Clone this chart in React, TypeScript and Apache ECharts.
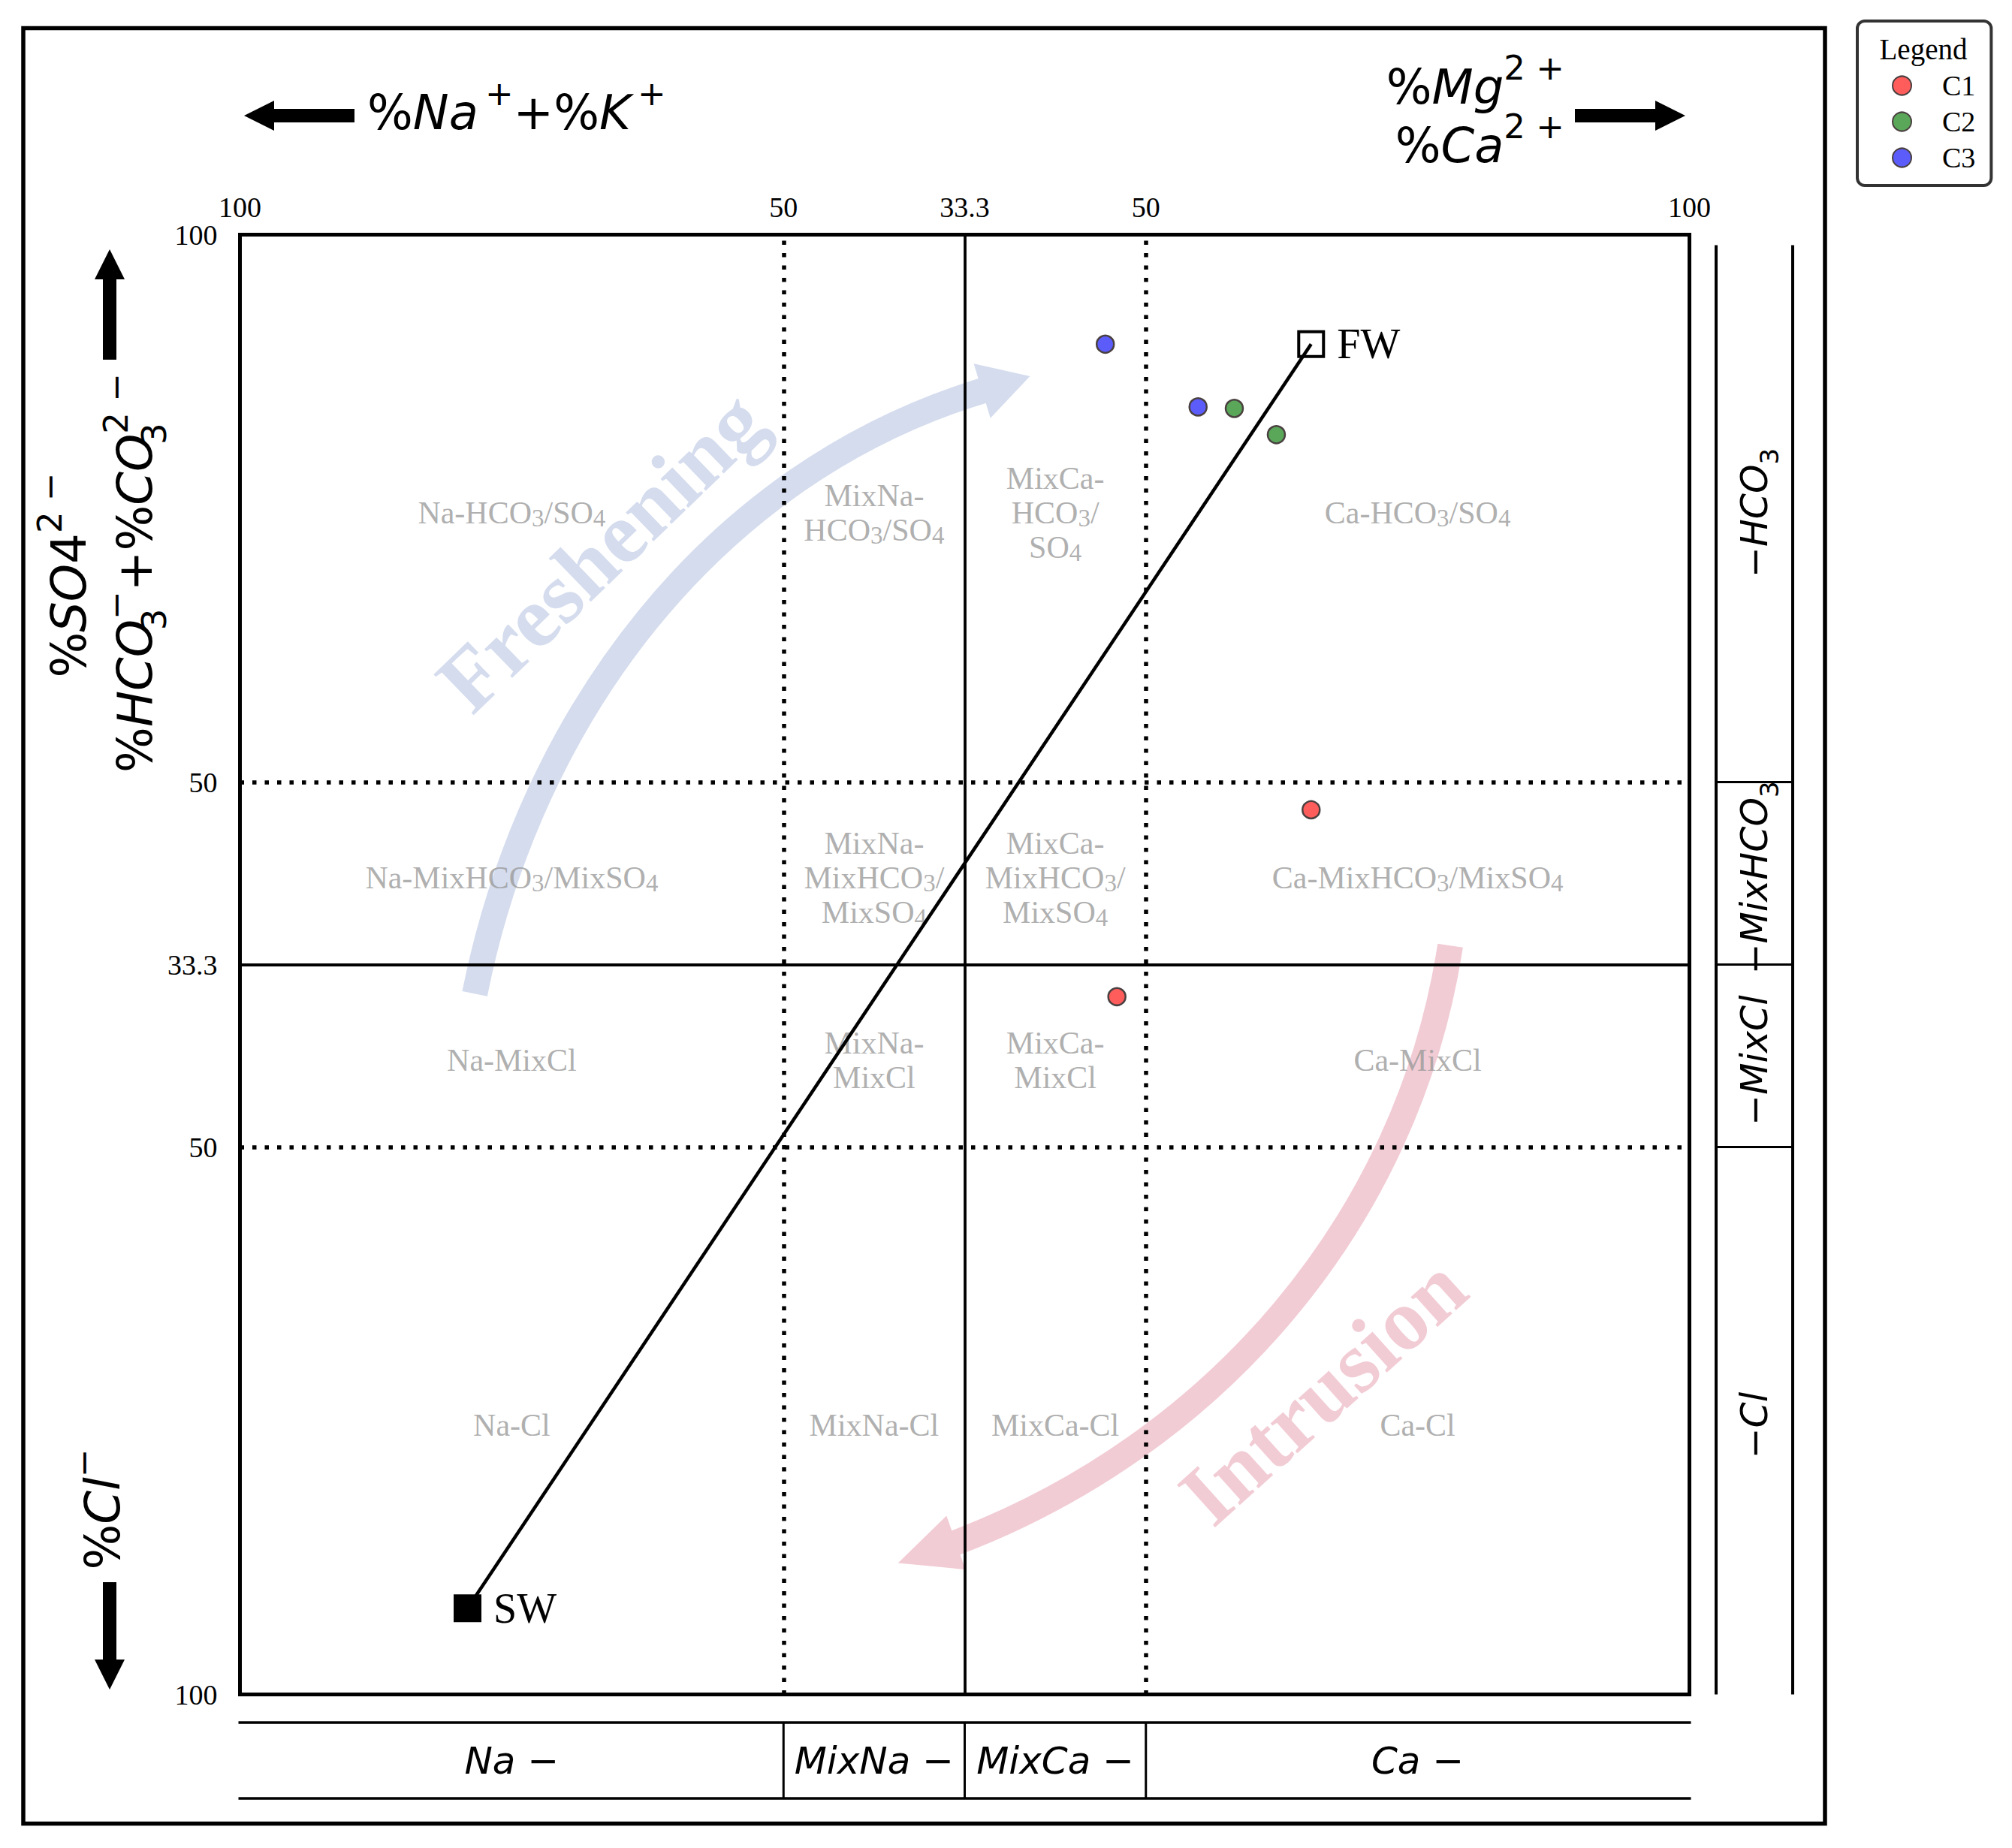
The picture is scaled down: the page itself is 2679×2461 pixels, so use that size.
import React, { useEffect, useRef } from 'react';
import * as echarts from 'echarts';

const W = 2679;
const H = 2461;
const SERIF = "'Liberation Serif', 'Times New Roman', Times, serif";
const SANS = "'DejaVu Sans', 'Noto Sans', sans-serif";

// ---------- axis tick labels (HFE-D) ----------
const xTickValues = [0, 37.5, 50, 62.5, 100];
const xTickLabels = ['100', '50', '33.3', '50', '100'];
const yTickValues = [0, 37.5, 50, 62.5, 100];
const yTickLabels = ['100', '50', '33.3', '50', '100'];

// ---------- facies boundaries ----------
const xDottedBounds = [37.5, 62.5];
const xSolidBounds = [50];
const yDottedBounds = [37.5, 62.5];
const ySolidBounds = [50];

const cationBounds = [0, 37.5, 50, 62.5, 100];
const cationLabels = ['{i|Na }{r|−}', '{i|MixNa }{r|−}', '{i|MixCa }{r|−}', '{i|Ca }{r|−}'];
const anionBounds = [100, 62.5, 50, 37.5, 0];
const anionLabels = ['{r|−}{i|HCO}{sub|3}', '{r|−}{i|MixHCO}{sub|3}', '{r|−}{i|MixCl}', '{r|−}{i|Cl}'];

// facies names, rows = anion classes (top to bottom), cols = cation classes (left to right)
const faciesRows = [
  ['Na-HCO{s|3}/SO{s|4}', 'MixNa-\nHCO{s|3}/SO{s|4}', 'MixCa-\nHCO{s|3}/\nSO{s|4}', 'Ca-HCO{s|3}/SO{s|4}'],
  ['Na-MixHCO{s|3}/MixSO{s|4}', 'MixNa-\nMixHCO{s|3}/\nMixSO{s|4}', 'MixCa-\nMixHCO{s|3}/\nMixSO{s|4}', 'Ca-MixHCO{s|3}/MixSO{s|4}'],
  ['Na-MixCl', 'MixNa-\nMixCl', 'MixCa-\nMixCl', 'Ca-MixCl'],
  ['Na-Cl', 'MixNa-Cl', 'MixCa-Cl', 'Ca-Cl'],
];

// ---------- samples ----------
const c1X = [73.9, 60.5];
const c1Y = [60.6, 47.8];
const c2X = [68.6, 71.5];
const c2Y = [88.1, 86.3];
const c3X = [59.7, 66.1];
const c3Y = [92.5, 88.2];

// ---------- end members ----------
const endNames = ['SW', 'FW'];
const endX = [15.7, 73.9];
const endY = [5.9, 92.5];

// ---------- trend arrows: [start, control1, control2, head base, tip] in diagram units ----------
const freshX = [16.2, 20.0, 32.5, 51.2, 54.5];
const freshY = [48.0, 66.9, 83.7, 89.3, 90.3];
const intrX = [83.5, 80.6, 67.3, 49.4, 45.4];
const intrY = [51.3, 32.5, 17.1, 10.4, 9.0];
const trendNames = ['Freshening', 'Intrusion'];
const trendTextX = [24.9, 74.7];
const trendTextY = [78.3, 20.8];
const trendTextAngle = [44, 42];
const trendColors = ['#d4dcee', '#f2ccd5'];

const THIN = '\u2009';

const mathRich = (fs: number) => {
  const lh = Math.round(fs * 1.5);
  const ss = Math.round(fs * 0.7);
  return {
    r: { fontFamily: SANS, fontSize: fs, lineHeight: lh, fill: '#000' },
    i: { fontFamily: SANS, fontStyle: 'italic', fontSize: fs, lineHeight: lh, fill: '#000' },
    sup: { fontFamily: SANS, fontSize: ss, lineHeight: ss, verticalAlign: 'top', fill: '#000' },
    sub: { fontFamily: SANS, fontSize: ss, lineHeight: ss, verticalAlign: 'bottom', fill: '#000' },
    subz: { fontFamily: SANS, fontSize: ss, lineHeight: ss, verticalAlign: 'bottom', width: 0, fill: '#000' },
  };
};

const blockArrow = (tx: number, ty: number, hx: number, hy: number) => {
  const shaft = 18, headW = 40, headL = 40;
  const dx = hx - tx, dy = hy - ty;
  const L = Math.hypot(dx, dy);
  const ux = dx / L, uy = dy / L;
  const nx = -uy, ny = ux;
  const bx = hx - ux * headL, by = hy - uy * headL;
  return {
    type: 'polygon',
    shape: {
      points: [
        [tx + nx * shaft / 2, ty + ny * shaft / 2],
        [bx + nx * shaft / 2, by + ny * shaft / 2],
        [bx + nx * headW / 2, by + ny * headW / 2],
        [hx, hy],
        [bx - nx * headW / 2, by - ny * headW / 2],
        [bx - nx * shaft / 2, by - ny * shaft / 2],
        [tx - nx * shaft / 2, ty - ny * shaft / 2],
      ],
    },
    style: { fill: '#000' },
  };
};

const scatterSeries = (name: string, xs: number[], ys: number[], color: string) => ({
  type: 'scatter',
  name,
  z: 6,
  symbol: 'circle',
  symbolSize: 23,
  itemStyle: { color, borderColor: '#4a4040', borderWidth: 2.5, opacity: 1 },
  emphasis: { disabled: true },
  data: xs.map((x, i) => [x, ys[i]]),
});

function buildOption() {
  const dotted = { type: [5.5, 11], width: 5.5, color: '#000' };
  const solid = { type: 'solid', width: 3.8, color: '#000' };
  const markData: any[] = [];
  xDottedBounds.forEach((v) => markData.push({ xAxis: v, lineStyle: dotted }));
  xSolidBounds.forEach((v) => markData.push({ xAxis: v, lineStyle: solid }));
  yDottedBounds.forEach((v) => markData.push({ yAxis: v, lineStyle: dotted }));
  ySolidBounds.forEach((v) => markData.push({ yAxis: v, lineStyle: solid }));

  const faciesData: any[] = [];
  faciesRows.forEach((row, r) => {
    const yc = (anionBounds[r] + anionBounds[r + 1]) / 2;
    row.forEach((lab, c) => {
      const xc = (cationBounds[c] + cationBounds[c + 1]) / 2;
      faciesData.push({ name: lab, value: [xc, yc] });
    });
  });

  const trends = trendNames.map((n, i) => ({
    name: n,
    xs: i === 0 ? freshX : intrX,
    ys: i === 0 ? freshY : intrY,
    tx: trendTextX[i],
    ty: trendTextY[i],
    angle: trendTextAngle[i],
    color: trendColors[i],
  }));

  return {
    animation: false,
    backgroundColor: '#ffffff',
    textStyle: { fontFamily: SERIF },
    grid: {
      left: 319.5, top: 312.5, width: 1930, height: 1944,
      show: true, borderColor: '#000', borderWidth: 5, backgroundColor: 'transparent',
    },
    xAxis: {
      type: 'value', position: 'top', min: 0, max: 100, interval: 12.5,
      axisLine: { show: false }, axisTick: { show: false }, splitLine: { show: false },
      axisLabel: {
        margin: 18, fontFamily: SERIF, fontSize: 38, color: '#000',
        formatter: (v: number) => {
          const k = xTickValues.indexOf(v);
          return k >= 0 ? xTickLabels[k] : '';
        },
      },
    },
    yAxis: {
      type: 'value', min: 0, max: 100, interval: 12.5,
      axisLine: { show: false }, axisTick: { show: false }, splitLine: { show: false },
      axisLabel: {
        margin: 30, fontFamily: SERIF, fontSize: 38, color: '#000',
        formatter: (v: number) => {
          const k = yTickValues.indexOf(v);
          return k >= 0 ? yTickLabels[k] : '';
        },
      },
    },
    legend: {
      data: ['C1', 'C2', 'C3'],
      orient: 'vertical',
      left: 2473, top: 28,
      padding: [67, 21, 18, 46],
      itemWidth: 25, itemHeight: 25, itemGap: 10,
      icon: 'circle',
      borderColor: '#333', borderWidth: 4, borderRadius: 10, backgroundColor: '#fff',
      selectedMode: false,
      textStyle: { fontFamily: SERIF, fontSize: 38, lineHeight: 38, color: '#000', padding: [0, 0, 0, 36] },
    },
    series: [
      {
        type: 'scatter', name: 'bounds', z: 1, data: [], silent: true,
        markLine: {
          silent: true, symbol: ['none', 'none'], label: { show: false },
          emphasis: { disabled: true }, animation: false, data: markData,
        },
      },
      {
        type: 'custom', name: 'trends', z: 2, silent: true,
        coordinateSystem: 'cartesian2d',
        data: trends.map((_, i) => [i, 0]),
        encode: { x: 0, y: 1 },
        renderItem: (params: any, api: any) => {
          const t = trends[params.dataIndex];
          const p = t.xs.map((x: number, i: number) => api.coord([x, t.ys[i]]));
          const [s, c1, c2, base, tip] = p;
          const dx = tip[0] - base[0], dy = tip[1] - base[1];
          const L = Math.hypot(dx, dy);
          const ux = dx / L, uy = dy / L;
          const nx = -uy, ny = ux;
          const hw = 38;
          const endX2 = base[0] + ux * 3, endY2 = base[1] + uy * 3;
          const c = api.coord([t.tx, t.ty]);
          return {
            type: 'group',
            children: [
              {
                type: 'bezierCurve',
                shape: { x1: s[0], y1: s[1], cpx1: c1[0], cpy1: c1[1], cpx2: c2[0], cpy2: c2[1], x2: endX2, y2: endY2 },
                style: { stroke: t.color, lineWidth: 34, fill: null, lineCap: 'butt' },
              },
              {
                type: 'polygon',
                shape: { points: [[base[0] + nx * hw, base[1] + ny * hw], tip, [base[0] - nx * hw, base[1] - ny * hw]] },
                style: { fill: t.color },
              },
              {
                type: 'text', x: c[0], y: c[1], rotation: (t.angle * Math.PI) / 180,
                style: {
                  text: t.name, fontFamily: SERIF, fontWeight: 'bold', fontSize: 116,
                  fill: t.color, align: 'center', verticalAlign: 'middle',
                },
              },
            ],
          };
        },
      },
      {
        type: 'scatter', name: 'facies', z: 3, silent: true,
        symbolSize: 1, itemStyle: { color: 'transparent' },
        emphasis: { disabled: true },
        label: {
          show: true, position: 'inside', formatter: '{b}', align: 'center', offset: [0, 6],
          fontFamily: SERIF, fontSize: 42, lineHeight: 46, color: '#9a9a9a',
          rich: { s: { fontFamily: SERIF, fontSize: 33, lineHeight: 32, verticalAlign: 'bottom', color: '#9a9a9a' } },
        },
        data: faciesData,
      },
      {
        type: 'line', name: 'mixing', z: 4, silent: true, symbol: 'none',
        lineStyle: { color: '#000', width: 4.5 },
        data: endX.map((x, i) => [x, endY[i]]),
      },
      {
        type: 'scatter', name: 'endmembers', z: 5, silent: true,
        symbol: 'rect',
        emphasis: { disabled: true },
        label: {
          show: true, position: 'right', distance: 16, formatter: '{b}',
          fontFamily: SERIF, fontSize: 56, color: '#000',
        },
        data: endNames.map((nm, i) => ({
          name: nm,
          value: [endX[i], endY[i]],
          symbolSize: nm === 'SW' ? 37 : 33,
          itemStyle: nm === 'SW'
            ? { color: '#000', borderColor: '#000', borderWidth: 0, opacity: 1 }
            : { color: 'rgba(255,255,255,0)', borderColor: '#000', borderWidth: 4, opacity: 1 },
        })),
      },
      scatterSeries('C1', c1X, c1Y, '#ff5c5c'),
      scatterSeries('C2', c2X, c2Y, '#5aa75a'),
      scatterSeries('C3', c3X, c3Y, '#5c5cfa'),
    ],
  };
}

function buildGraphic(chart: any) {
  const P = (x: number, y: number) => chart.convertToPixel({ gridIndex: 0 }, [x, y]);
  const left = P(0, 0)[0];
  const right = P(100, 0)[0];
  const top = P(0, 100)[1];
  const bottom = P(0, 0)[1];
  const els: any[] = [];

  // outer frame
  els.push({ type: 'rect', shape: { x: 31, y: 37.5, width: 2399, height: 2391 }, style: { fill: 'none', stroke: '#000', lineWidth: 5.5 } });

  // right anion strip
  const sx1 = 2285, sx2 = 2387, sTop = top + 14;
  [sx1, sx2].forEach((x) => els.push({ type: 'line', shape: { x1: x, y1: sTop, x2: x, y2: bottom }, style: { stroke: '#000', lineWidth: 4 } }));
  anionBounds.slice(1, -1).forEach((b) => {
    const y = P(0, b)[1];
    els.push({ type: 'line', shape: { x1: sx1, y1: y, x2: sx2, y2: y }, style: { stroke: '#000', lineWidth: 3 } });
  });
  anionLabels.forEach((lab, i) => {
    const y = P(0, (anionBounds[i] + anionBounds[i + 1]) / 2)[1] + 6;
    els.push({
      type: 'text', x: (sx1 + sx2) / 2, y, rotation: Math.PI / 2,
      style: { text: lab, rich: mathRich(49), align: 'center', verticalAlign: 'middle' },
    });
  });

  // bottom cation strip
  const by1 = 2294, by2 = 2395;
  [by1, by2].forEach((y) => els.push({ type: 'line', shape: { x1: left - 2, y1: y, x2: right + 2, y2: y }, style: { stroke: '#000', lineWidth: 3.5 } }));
  cationBounds.slice(1, -1).forEach((b) => {
    const x = P(b, 0)[0];
    els.push({ type: 'line', shape: { x1: x, y1: by1, x2: x, y2: by2 }, style: { stroke: '#000', lineWidth: 3 } });
  });
  cationLabels.forEach((lab, i) => {
    const x = P((cationBounds[i] + cationBounds[i + 1]) / 2, 0)[0];
    els.push({
      type: 'text', x, y: (by1 + by2) / 2,
      style: { text: lab, rich: mathRich(50), align: 'center', verticalAlign: 'middle' },
    });
  });

  // axis titles
  els.push(blockArrow(472, 154, 325, 154));
  els.push({ type: 'text', x: 489, y: 150, style: { text: `{r|%}{i|Na}{sup|${THIN}+}{r|+%}{i|K}{sup|${THIN}+}`, rich: mathRich(64), align: 'left', verticalAlign: 'middle' } });
  els.push(blockArrow(2097, 154, 2244, 154));
  els.push({ type: 'text', x: 2083, y: 116, style: { text: '{r|%}{i|Mg}{sup|2 +}', rich: mathRich(64), align: 'right', verticalAlign: 'middle' } });
  els.push({ type: 'text', x: 2083, y: 194, style: { text: '{r|%}{i|Ca}{sup|2 +}', rich: mathRich(64), align: 'right', verticalAlign: 'middle' } });

  els.push(blockArrow(146, 479, 146, 332));
  els.push({ type: 'text', x: 92, y: 766, rotation: Math.PI / 2, style: { text: '{r|%}{i|SO}{r|4}{sup|2 −}', rich: mathRich(64), align: 'center', verticalAlign: 'middle' } });
  els.push({ type: 'text', x: 180, y: 763, rotation: Math.PI / 2, style: { text: '{r|%}{i|HCO}{subz|3}{sup|−}{r|+%}{i|CO}{subz|3}{sup|2 −}', rich: mathRich(64), align: 'center', verticalAlign: 'middle' } });
  els.push(blockArrow(146, 2107, 146, 2250));
  els.push({ type: 'text', x: 137, y: 2010, rotation: Math.PI / 2, style: { text: '{r|%}{i|Cl}{sup|−}', rich: mathRich(64), align: 'center', verticalAlign: 'middle' } });

  // legend title
  els.push({ type: 'text', x: 2561, y: 65, z: 100, style: { text: 'Legend', fontFamily: SERIF, fontSize: 39, fill: '#000', align: 'center', verticalAlign: 'middle' } });

  return els;
}

export default function App() {
  const ref = useRef<HTMLDivElement>(null);
  useEffect(() => {
    const chart = echarts.init(ref.current as HTMLDivElement, null, { renderer: 'svg', width: W, height: H });
    chart.setOption(buildOption() as any);
    chart.setOption({ graphic: buildGraphic(chart) } as any);
    return () => chart.dispose();
  }, []);
  return <div ref={ref} style={{ position: 'absolute', left: 0, top: 0, width: W, height: H, background: '#fff' }} />;
}
